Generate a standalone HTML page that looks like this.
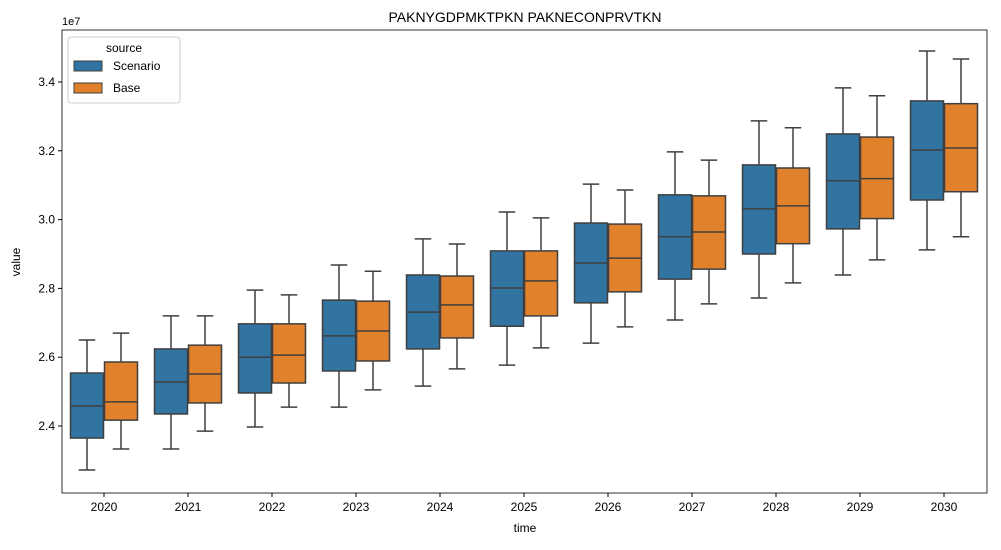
<!DOCTYPE html>
<html><head><meta charset="utf-8"><style>
body{margin:0;background:#fff;font-family:"Liberation Sans",sans-serif}
svg text{font-family:"Liberation Sans",sans-serif;fill:#000}
</style></head><body>
<svg id="chart" width="1001" height="545">
<text x="525" y="22" font-size="14" text-anchor="middle">PAKNYGDPMKTPKN PAKNECONPRVTKN</text>
<text x="62" y="25" font-size="11">1e7</text>
<text x="20" y="262" font-size="12" text-anchor="middle" transform="rotate(-90 20 262)">value</text>
<text x="525" y="532" font-size="12" text-anchor="middle">time</text>
<g id="plot"></g>
<rect x="62" y="30" width="925" height="463" fill="none" stroke="#000" stroke-width="0.8"/>
<g>
<rect x="68" y="37" width="112" height="66" rx="3" fill="#fff" fill-opacity="0.8" stroke="#ccc"/>
<text x="124" y="52" font-size="12" text-anchor="middle">source</text>
<rect x="74" y="61" width="28" height="10" fill="#3274a1" stroke="#3f3f3f"/>
<text x="113" y="70" font-size="12">Scenario</text>
<rect x="74" y="83" width="28" height="10" fill="#e1812c" stroke="#3f3f3f"/>
<text x="113" y="92" font-size="12">Base</text>
</g>
</svg>
<script>
const categories=["2020","2021","2022","2023","2024","2025","2026","2027","2028","2029","2030"];
const scenarioStats=[[2.272,2.365,2.458,2.554,2.65],[2.333,2.435,2.528,2.624,2.72],[2.397,2.496,2.6,2.697,2.795],[2.455,2.56,2.662,2.766,2.868],[2.516,2.624,2.731,2.839,2.944],[2.577,2.69,2.801,2.909,3.022],[2.641,2.758,2.874,2.99,3.103],[2.708,2.827,2.95,3.072,3.197],[2.772,2.9,3.031,3.159,3.287],[2.839,2.973,3.113,3.249,3.383],[2.912,3.057,3.202,3.345,3.49]];
const baseStats=[[2.333,2.417,2.47,2.586,2.67],[2.385,2.467,2.551,2.635,2.72],[2.455,2.525,2.606,2.697,2.781],[2.505,2.589,2.676,2.763,2.85],[2.566,2.656,2.752,2.836,2.929],[2.627,2.72,2.822,2.909,3.005],[2.688,2.79,2.888,2.987,3.086],[2.755,2.856,2.964,3.069,3.173],[2.816,2.93,3.04,3.15,3.267],[2.883,3.003,3.119,3.24,3.36],[2.95,3.081,3.208,3.337,3.467]];
const yTicks=[2.4,2.6,2.8,3.0,3.2,3.4];
const NS="http://www.w3.org/2000/svg";
const g=document.getElementById('plot');
function y(v){return 426-(v-2.4)*344;}
function x(i){return 104+i*84;}
function mk(t,a){const e=document.createElementNS(NS,t);for(const k in a)e.setAttribute(k,a[k]);g.appendChild(e);return e;}
yTicks.forEach(v=>{
  const l=mk('line',{x1:58,x2:62,y1:y(v),y2:y(v),stroke:'#000'});
  
  
  const t=mk('text',{x:55,y:y(v)+4,'font-size':12,'text-anchor':'end'});t.textContent=v.toFixed(1);
  
  
});
categories.forEach((c,i)=>{
  const l=mk('line',{x1:x(i),x2:x(i),y1:493,y2:497,stroke:'#000'});
  
  
  const t=mk('text',{x:x(i),y:511,'font-size':12,'text-anchor':'middle'});t.textContent=c;
  
  
});
function box(s,cx,col,name){
  const w=33,st='#3f3f3f';
  const a=mk('line',{x1:cx,x2:cx,y1:y(s[0]),y2:y(s[1]),stroke:st,'stroke-width':1.5});
  
  
  const b=mk('line',{x1:cx,x2:cx,y1:y(s[3]),y2:y(s[4]),stroke:st,'stroke-width':1.5});
  
  
  [s[0],s[4]].forEach(v=>{const cap=mk('line',{x1:cx-w/4,x2:cx+w/4,y1:y(v),y2:y(v),stroke:st,'stroke-width':1.5});
    
    });
  const r=mk('rect',{x:cx-w/2,y:y(s[3]),width:w,height:y(s[1])-y(s[3]),fill:col,stroke:st,'stroke-width':1.5});
  
  
  const m=mk('line',{x1:cx-w/2,x2:cx+w/2,y1:y(s[2]),y2:y(s[2]),stroke:st,'stroke-width':1.5});
  
  
}
categories.forEach((c,i)=>{
  box(scenarioStats[i],x(i)-17,'#3274a1','scenario-'+c);
  box(baseStats[i],x(i)+17,'#e1812c','base-'+c);
});
</script>
</body></html>
